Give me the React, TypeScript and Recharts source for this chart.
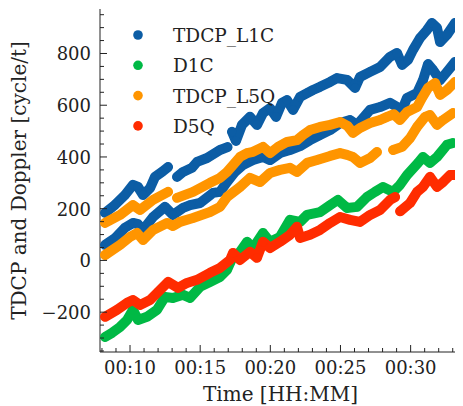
import React from 'react';
import { ScatterChart, Scatter, XAxis, YAxis, ZAxis, Legend } from 'recharts';

// [minutes after 00:00, value in cycle/t]
type Pt = [number, number];

// TDCP on L1C: two carrier tracks, each split where the track is interrupted
const l1cUpper: Pt[][] = [
  [[8.22, 184], [8.93, 215], [9.64, 253], [10.21, 292], [10.57, 284], [10.93, 253], [11.43, 280], [11.78, 323], [12.28, 342], [12.71, 361]],
  [[13.35, 323], [13.78, 342], [14.42, 358], [14.78, 381], [15.49, 396], [16.41, 427], [16.95, 438]],
  [[17.27, 497], [17.55, 462], [17.98, 524], [18.55, 555], [19.05, 524], [19.48, 570], [19.98, 589], [20.41, 555], [20.83, 609], [21.19, 620], [21.62, 582], [22.12, 632], [22.62, 647], [23.04, 659], [23.54, 671], [24.26, 690], [24.75, 705], [25.47, 698], [26.04, 667], [26.39, 709], [27.11, 729], [27.82, 748], [28.53, 787], [29.03, 802], [29.39, 756], [29.81, 775], [30.17, 814], [30.67, 860], [31.17, 891], [31.52, 918], [31.88, 899], [32.1, 844], [32.59, 872], [33.16, 918]],
];
const l1cLower: Pt[][] = [
  [[8.22, 60], [8.93, 86], [9.64, 126], [10.21, 145], [10.57, 140], [10.93, 118], [11.64, 168], [12.49, 207], [13.06, 176], [13.78, 203], [14.28, 214], [14.99, 222], [15.92, 261], [16.41, 265], [16.91, 303], [17.48, 342], [18.05, 369], [18.77, 388], [19.48, 400], [19.98, 388], [20.69, 415], [21.4, 427], [22.12, 442], [22.83, 465], [23.54, 485], [24.26, 504], [24.97, 531], [25.68, 543], [26.18, 524], [26.61, 551], [27.11, 582], [27.82, 593], [28.53, 609], [29.39, 582], [29.74, 628], [30.46, 647], [30.88, 697], [31.24, 759], [31.6, 736], [32.1, 697], [32.59, 729], [33.16, 767]],
];

// Doppler on L1C
const d1c: Pt[][] = [
  [[8.22, -296], [8.72, -280], [9.29, -257], [9.79, -230], [10.21, -191], [10.57, -230], [11.21, -218], [11.92, -191], [12.49, -141], [13.06, -145], [13.78, -133], [14.28, -145], [14.99, -102], [15.7, -83], [16.41, -64], [16.91, -37], [17.34, 15], [17.84, 33], [18.34, 72], [18.77, 48], [19.48, 106], [19.98, 72], [20.69, 91], [21.4, 157], [22.12, 149], [22.62, 176], [23.54, 187], [24.26, 214], [24.82, 234], [25.47, 203], [26.18, 207], [26.89, 245], [27.46, 265], [28.03, 284], [28.75, 265], [29.24, 292], [29.74, 330], [30.53, 377], [30.88, 400], [31.38, 377], [31.88, 400], [32.59, 447], [33.02, 454]],
];

// TDCP on L5Q: two carrier tracks
const l5qUpper: Pt[][] = [
  [[8.22, 145], [9.29, 176], [10.21, 214], [10.71, 195], [11.64, 234], [12.71, 265]],
  [[13.35, 242], [14.49, 265], [15.7, 300], [16.41, 319], [16.91, 342], [17.84, 400], [18.34, 415], [18.77, 420], [19.48, 439], [19.98, 415], [20.55, 439], [21.19, 458], [21.9, 465], [22.33, 485], [22.83, 504], [23.54, 516], [24.26, 524], [24.97, 535], [25.5, 520], [25.89, 493], [26.39, 512], [27.11, 531], [27.82, 543], [28.32, 555], [28.8, 565], [29.24, 543], [29.74, 574], [30.46, 593], [30.81, 628], [31.24, 667], [31.74, 686], [32.1, 640], [32.59, 659], [33.16, 690]],
];
const l5qLower: Pt[][] = [
  [[8.22, 21], [9.29, 60], [10.0, 91], [10.5, 106], [10.93, 79], [11.64, 118], [12.64, 145], [13.06, 133], [13.56, 149], [14.49, 164], [15.7, 187], [16.41, 207], [16.91, 245], [17.84, 284], [18.55, 319], [19.27, 303], [19.98, 338], [20.69, 350], [21.4, 358], [21.9, 342], [22.62, 377], [23.33, 388], [24.26, 404], [24.97, 415], [25.47, 408], [25.89, 400], [26.39, 377], [27.11, 396], [27.6, 419]],
  [[28.75, 427], [29.39, 439], [29.96, 473], [30.46, 516], [31.03, 555], [31.38, 562], [31.88, 524], [32.31, 543], [33.02, 570]],
];

// Doppler on L5Q
const d5q: Pt[][] = [
  [[8.22, -218], [9.07, -191], [9.79, -164], [10.21, -153], [10.71, -172], [11.43, -153], [12.0, -122], [12.71, -83], [13.42, -106], [14.06, -87], [14.78, -75], [15.7, -48], [16.41, -29], [17.13, 2], [17.34, 29], [17.84, 2], [18.55, 33], [19.05, 10], [19.48, 72], [19.98, 48], [20.69, 72], [21.4, 99], [21.9, 130], [22.12, 87], [22.83, 99], [23.54, 118], [24.26, 145], [24.97, 168], [25.68, 157], [26.39, 149], [27.11, 176], [27.82, 195], [28.53, 234], [28.89, 245]],
  [[29.25, 190], [29.96, 222], [30.46, 265], [30.88, 284], [31.38, 323], [31.88, 284], [32.31, 303], [32.81, 330], [33.16, 330]],
];

const seriesNames = ['TDCP_L1C', 'D1C', 'TDCP_L5Q', 'D5Q'];
const seriesColors = ['#0C5DA5', '#00B945', '#FF9500', '#FF2C00'];
const seriesTracks: Pt[][][] = [[...l1cUpper, ...l1cLower], d1c, [...l5qUpper, ...l5qLower], d5q];

const majorMinutes = [10, 15, 20, 25, 30];
const majorValues = [-200, 0, 200, 400, 600, 800];
const X_DOMAIN: [number, number] = [7.86, 33.59];
const Y_DOMAIN: [number, number] = [-354, 972];

const minuteTicks: number[] = [];
for (let m = 8; m <= 33; m++) minuteTicks.push(m);
const valueTicks: number[] = [];
for (let v = -350; v <= 950; v += 50) valueTicks.push(v);

const FONT = '"DejaVu Serif", serif';
const INK = '#222';
const MAJOR = 7;
const MINOR = 4;

const fmtTime = (m: number) => `00:${String(m).padStart(2, '0')}`;
const fmtValue = (v: number) => (v < 0 ? `\u2212${-v}` : `${v}`);

const bottomTick = (p: any) => {
  const { x, y, payload } = p;
  const major = majorMinutes.includes(payload.value);
  return (
    <g>
      <line x1={x} x2={x} y1={y} y2={y - (major ? MAJOR : MINOR)} stroke={INK} strokeWidth={1} />
      {major && (
        <text x={x} y={y + 22} textAnchor="middle" fontFamily={FONT} fontSize={18} fill={INK}>
          {fmtTime(payload.value)}
        </text>
      )}
    </g>
  );
};

const topTick = (p: any) => {
  const { x, y, payload } = p;
  const major = majorMinutes.includes(payload.value);
  return <line x1={x} x2={x} y1={y} y2={y + (major ? MAJOR : MINOR)} stroke={INK} strokeWidth={1} />;
};

const leftTick = (p: any) => {
  const { x, y, payload } = p;
  const major = majorValues.includes(payload.value);
  return (
    <g>
      <line x1={x} x2={x + (major ? MAJOR : MINOR)} y1={y} y2={y} stroke={INK} strokeWidth={1} />
      {major && (
        <text x={x - 9} y={y + 7} textAnchor="end" fontFamily={FONT} fontSize={18} fill={INK}>
          {fmtValue(payload.value)}
        </text>
      )}
    </g>
  );
};

const rightTick = (p: any) => {
  const { x, y, payload } = p;
  const major = majorValues.includes(payload.value);
  return <line x1={x} x2={x - (major ? MAJOR : MINOR)} y1={y} y2={y} stroke={INK} strokeWidth={1} />;
};

const xTitle = (p: any) => {
  const vb = p.viewBox || {};
  return (
    <text x={vb.x + vb.width / 2} y={vb.y + 49} textAnchor="middle" fontFamily={FONT} fontSize={20} fill={INK}>
      Time [HH:MM]
    </text>
  );
};

const yTitle = (p: any) => {
  const vb = p.viewBox || {};
  const cx = vb.x + 18;
  const cy = vb.y + vb.height / 2;
  return (
    <text x={cx} y={cy} transform={`rotate(-90 ${cx} ${cy})`} textAnchor="middle" fontFamily={FONT} fontSize={20} fill={INK}>
      TDCP and Doppler [cycle/t]
    </text>
  );
};

const legendContent = () => (
  <svg width={340} height={140}>
    {seriesNames.map((name, i) => (
      <g key={name}>
        <circle cx={130} cy={27 + i * 30.3} r={4.8} fill={seriesColors[i]} />
        <text x={165} y={34 + i * 30.3} fontFamily={FONT} fontSize={18.5} fill={INK}>
          {name}
        </text>
      </g>
    ))}
  </svg>
);

export default function App() {
  return (
    <ScatterChart width={455} height={398} margin={{ top: 1, right: 2, bottom: 0, left: 0 }}>
      <XAxis
        type="number"
        dataKey="t"
        domain={X_DOMAIN}
        allowDataOverflow
        ticks={minuteTicks}
        interval={0}
        tickSize={0}
        tickMargin={0}
        tickLine={false}
        tick={bottomTick}
        axisLine={{ stroke: INK, strokeWidth: 1 }}
        height={54}
        label={xTitle}
      />
      <XAxis
        xAxisId="top"
        orientation="top"
        type="number"
        domain={X_DOMAIN}
        allowDataOverflow
        ticks={minuteTicks}
        interval={0}
        tickSize={0}
        tickMargin={0}
        tickLine={false}
        tick={topTick}
        axisLine={{ stroke: INK, strokeWidth: 1 }}
        height={0}
      />
      <YAxis
        type="number"
        dataKey="v"
        domain={Y_DOMAIN}
        allowDataOverflow
        ticks={valueTicks}
        interval={0}
        tickSize={0}
        tickMargin={0}
        tickLine={false}
        tick={leftTick}
        axisLine={{ stroke: INK, strokeWidth: 1 }}
        width={92}
        label={yTitle}
      />
      <YAxis
        yAxisId="right"
        orientation="right"
        type="number"
        domain={Y_DOMAIN}
        allowDataOverflow
        ticks={valueTicks}
        interval={0}
        tickSize={0}
        tickMargin={0}
        tickLine={false}
        tick={rightTick}
        axisLine={{ stroke: INK, strokeWidth: 1 }}
        width={0}
      />
      <ZAxis range={[78, 78]} />
      {seriesTracks.map((tracks, si) =>
        tracks.map((track, ti) => (
          <Scatter
            key={`${seriesNames[si]}-${ti}`}
            name={seriesNames[si]}
            data={track.map(([t, v]) => ({ t, v }))}
            fill={seriesColors[si]}
            shape="circle"
            line={{ stroke: seriesColors[si], strokeWidth: 10, strokeLinejoin: 'round', strokeLinecap: 'round' }}
            legendType="none"
            isAnimationActive={false}
          />
        ))
      )}
      <Legend
        layout="vertical"
        align="center"
        verticalAlign="middle"
        wrapperStyle={{ left: 0, top: 0, width: 340, height: 140 }}
        content={legendContent}
      />
    </ScatterChart>
  );
}
